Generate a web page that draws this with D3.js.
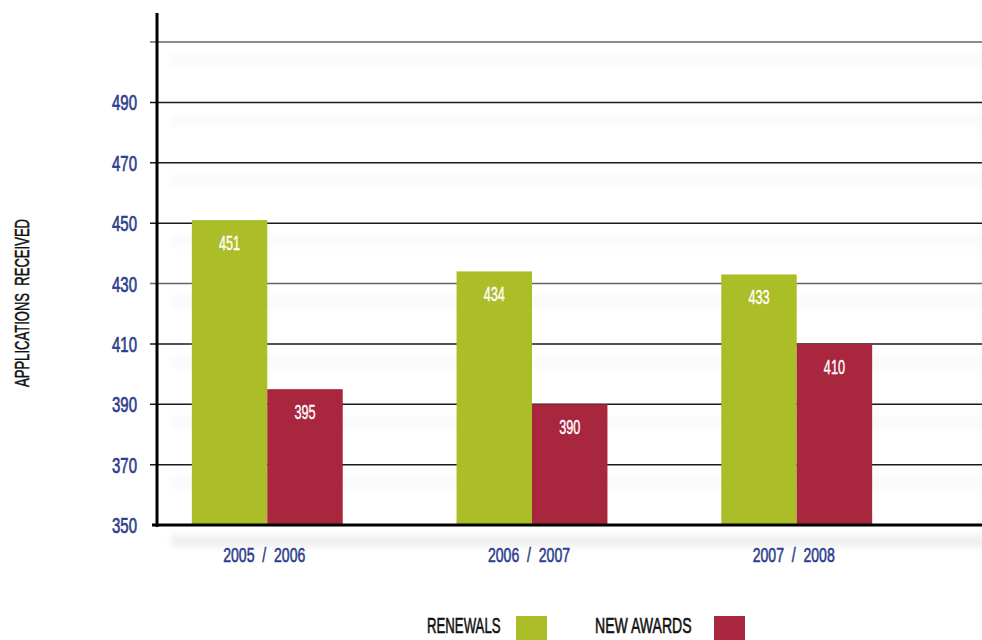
<!DOCTYPE html>
<html lang="en">
<head>
<meta charset="UTF-8" />
<title>Applications received</title>
<style>
  body { margin: 0; background: #fff; }
  text { font-family: "Liberation Sans", Arial, sans-serif; }
</style>
</head>
<body>
<svg id="svg" width="982" height="640"></svg>
<script src="https://d3js.org/d3.v7.min.js"></script>
<script>
  // data
  const years = ['2005 / 2006', '2006 / 2007', '2007 / 2008'];
  const renewals = [451, 434, 433];
  const newAwards = [395, 390, 410];
  const yTicks = [350, 370, 390, 410, 430, 450, 470, 490];
  const gridValues = [370, 390, 410, 430, 450, 470, 490, 510];
  const seriesNames = ['RENEWALS', 'NEW AWARDS'];
  const colors = ['#abbd27', '#a8263e'];

  const svg = d3.select('#svg');
  const plotLeft = 157, plotRight = 982, plotTop = 42, plotBottom = 525;
  const blue = '#2c3e8d';

  const y = d3.scaleLinear().domain([350, 510]).range([plotBottom, plotTop]);
  const x = d3.scaleBand().domain(years).range([78, 986]).padding(0.43);
  const xs = d3.scaleBand().domain(seriesNames).range([0, x.bandwidth()]);

  // condensed text: squeeze a normal font horizontally
  function narrowText(parent, tx, ty, sx, str, opts) {
    const g = parent.append('g')
      .attr('transform', `translate(${tx},${ty}) scale(${sx},1)`);
    g.append('text')
      .attr('text-anchor', opts.anchor || 'start')
      .attr('fill', opts.fill)
      .attr('stroke', opts.fill)
      .attr('stroke-width', opts.weight || 0.5)
      .attr('font-size', opts.size)
      .attr('xml:space', 'preserve')
      .text(str);
    return g;
  }

  const defs = svg.append('defs');
  defs.append('filter').attr('id', 'blur')
    .attr('x', '-5%').attr('y', '-100%').attr('width', '110%').attr('height', '300%')
    .append('feGaussianBlur').attr('stdDeviation', 3);

  // faint shadow bands under the grid lines
  svg.append('g').attr('filter', 'url(#blur)').selectAll('rect')
    .data(gridValues.concat([350]))
    .enter()
    .append('rect')
    .attr('x', plotLeft + 14)
    .attr('width', plotRight - plotLeft)
    .attr('y', d => y(d) + (d === 350 ? 10 : 12))
    .attr('height', 12)
    .attr('fill', d => d === 350 ? '#efefef' : '#fafafa');

  // grid lines
  svg.append('g').selectAll('line')
    .data(gridValues)
    .enter()
    .append('line')
    .attr('x1', 150)
    .attr('x2', plotRight)
    .attr('y1', d => y(d))
    .attr('y2', d => y(d))
    .attr('stroke', d => (d === 510 || d === 430) ? '#666' : '#1a1a1a')
    .attr('stroke-width', 1.5);

  // bars
  const data = [];
  years.forEach((yr, i) => {
    data.push({ year: yr, s: seriesNames[0], v: renewals[i], c: colors[0] });
    data.push({ year: yr, s: seriesNames[1], v: newAwards[i], c: colors[1] });
  });

  svg.append('g').selectAll('rect')
    .data(data)
    .enter()
    .append('rect')
    .attr('x', d => x(d.year) + xs(d.s))
    .attr('width', xs.bandwidth())
    .attr('y', d => y(d.v))
    .attr('height', d => y(350) - y(d.v))
    .attr('fill', d => d.c);

  const valG = svg.append('g');
  data.forEach(d => {
    narrowText(valG, x(d.year) + xs(d.s) + xs.bandwidth() / 2, y(d.v) + 30, 0.65, d.v,
      { anchor: 'middle', fill: '#fff', size: 19.5, weight: 0.4 });
  });

  // axes lines
  svg.append('line')
    .attr('x1', plotLeft).attr('x2', plotLeft)
    .attr('y1', 13).attr('y2', plotBottom + 2)
    .attr('stroke', '#000').attr('stroke-width', 3);
  svg.append('line')
    .attr('x1', 152).attr('x2', plotRight)
    .attr('y1', plotBottom).attr('y2', plotBottom)
    .attr('stroke', '#000').attr('stroke-width', 3);

  // y tick labels
  const yG = svg.append('g');
  yTicks.forEach(t => {
    narrowText(yG, 137, y(t) + 8, 0.68, t, { anchor: 'end', fill: blue, size: 22, weight: 0.7 });
  });

  // x labels
  const xG = svg.append('g');
  years.forEach(yr => {
    narrowText(xG, x(yr) + x.bandwidth() / 2 - 3, 562, 0.67, yr.replace(' / ', '  /  '),
      { anchor: 'middle', fill: blue, size: 21, weight: 0.6 });
  });

  // y title
  const titleG = svg.append('g').attr('transform', 'translate(29,303) rotate(-90)');
  narrowText(titleG, 0, 0, 0.67, 'APPLICATIONS  RECEIVED', { anchor: 'middle', fill: '#111', size: 19.5 });

  // legend
  const legend = [
    { name: seriesNames[0], tx: 427, sx: 516, c: colors[0], k: 0.6 },
    { name: seriesNames[1], tx: 595, sx: 714, c: colors[1], k: 0.64 }
  ];
  const lgG = svg.append('g');
  legend.forEach(d => {
    narrowText(lgG, d.tx, 633, d.k, d.name, { fill: '#111', size: 22, weight: 0.6 });
    lgG.append('rect')
      .attr('x', d.sx)
      .attr('y', 616)
      .attr('width', 31)
      .attr('height', 24)
      .attr('fill', d.c);
  });
</script>
</body>
</html>
